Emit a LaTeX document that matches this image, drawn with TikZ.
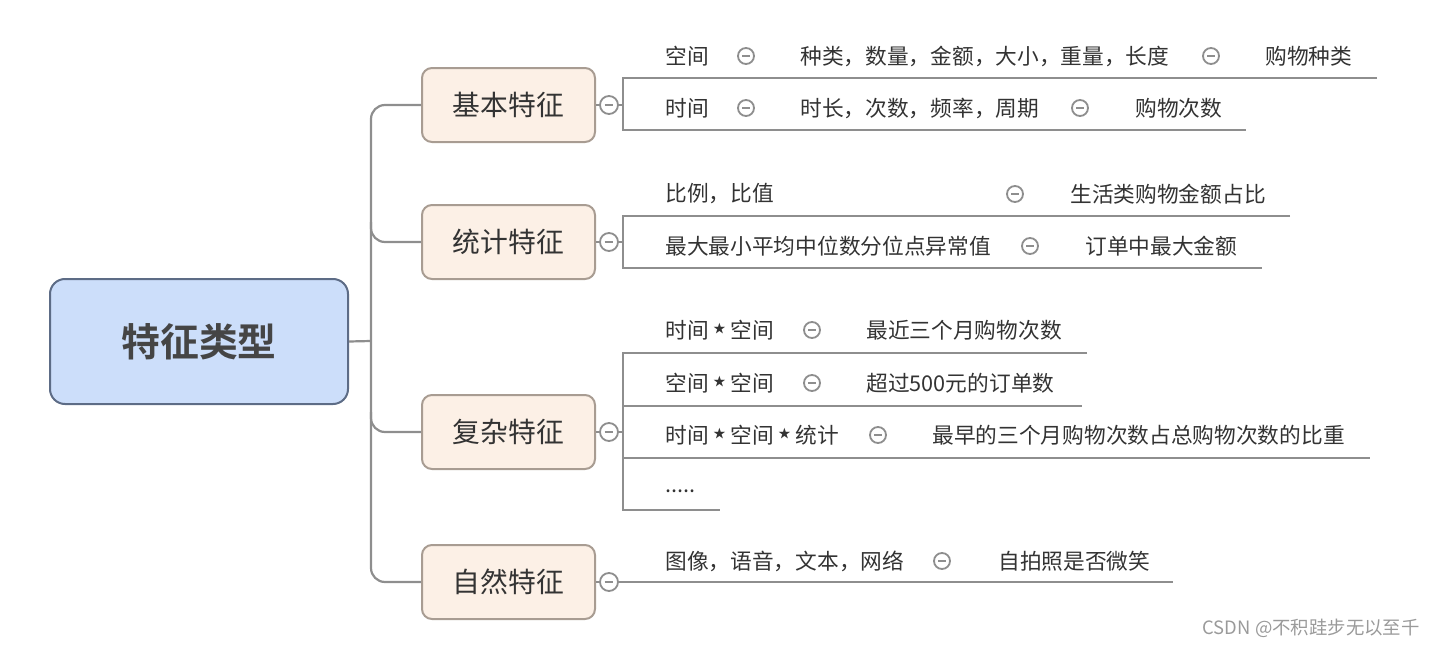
\documentclass[tikz,border=0pt]{standalone}
\usepackage{fontspec}
\setmainfont{Noto Sans CJK SC}[BoldFont={Noto Sans CJK SC Bold}]
\newfontfamily\dejavu{DejaVu Sans}
\definecolor{linegray}{HTML}{8E8E8E}
\definecolor{rootblue}{HTML}{CCDEFA}
\definecolor{rootborder}{HTML}{5D6C86}
\definecolor{branchfill}{HTML}{FCF0E6}
\definecolor{branchborder}{HTML}{A89C92}
\definecolor{txt}{HTML}{333333}
\definecolor{roottxt}{HTML}{454545}
\definecolor{wm}{HTML}{9A9A9A}
\newcommand{\st}{{\hspace{0.7pt}\dejavu\fontsize{15pt}{13pt}\selectfont ⋆\hspace{0.7pt}}}
\begin{document}
\begin{tikzpicture}[x=0.5pt,y=-0.5pt,
  conn/.style={draw=linegray,line width=1.1pt},
  rootbox/.style={draw=rootborder,fill=rootblue,line width=1pt,rounded corners=7.5pt,
    minimum width=149pt,minimum height=62.5pt,inner sep=0pt,
    font=\fontsize{19.4pt}{22pt}\selectfont\bfseries,text=roottxt},
  branchbox/.style={draw=branchborder,fill=branchfill,line width=1pt,rounded corners=5pt,
    minimum width=86.5pt,minimum height=37pt,inner sep=0pt,
    font=\fontsize{13.9pt}{16pt}\selectfont,text=txt},
  bigtoggle/.style={circle,draw=linegray,fill=white,line width=0.9pt,minimum size=9pt,inner sep=0pt,
    path picture={\draw[linegray,line width=0.8pt] ([xshift=-2.2pt]path picture bounding box.center) -- ([xshift=2.2pt]path picture bounding box.center);}},
  toggle/.style={circle,draw=linegray,fill=white,line width=0.9pt,minimum size=8pt,inner sep=0pt,
    path picture={\draw[linegray,line width=0.8pt] ([xshift=-2pt]path picture bounding box.center) -- ([xshift=2pt]path picture bounding box.center);}},
  leaf/.style={anchor=west,inner sep=0pt,font=\fontsize{10.85pt}{13pt}\selectfont,text=txt}
]
\useasboundingbox (0,0) rectangle (1436,648);

% root and branches
\node[rootbox] (root) at (199,341.5) {特征类型};
\node[branchbox] (b1) at (508.5,105) {基本特征};
\node[branchbox] (b2) at (508.5,242) {统计特征};
\node[branchbox] (b3) at (508.5,432) {复杂特征};
\node[branchbox] (b4) at (508.5,582) {自然特征};

\coordinate (tr) at (371,341);
\coordinate (tr2) at (371,222);
\coordinate (tr3) at (371,412);
\draw[conn] (root.east) -- (tr);
\draw[conn,rounded corners=7pt] (b1.west) -| (tr) |- (b4.west);
\draw[conn,rounded corners=7pt] (tr2) |- (b2.west);
\draw[conn,rounded corners=7pt] (tr3) |- (b3.west);

% branch toggles
\node[bigtoggle] (g1) at (609,105) {};
\node[bigtoggle] (g2) at (609,242) {};
\node[bigtoggle] (g3) at (609,432) {};
\node[bigtoggle] (g4) at (609,582) {};
\draw[conn] (b1.east) -- (g1.west);
\draw[conn] (b2.east) -- (g2.west);
\draw[conn] (b3.east) -- (g3.west);
\draw[conn] (b4.east) -- (g4.west);

% ---- 基本特征
\coordinate (a1s) at (623,78);  \coordinate (a1e) at (1377,78);
\coordinate (a2s) at (623,130); \coordinate (a2e) at (1246,130);
\draw[conn] (g1.east) -- (g1.east -| a1s);
\draw[conn] (a1e) -- (a1s) -- (a2s) -- (a2e);
\node[leaf] (a1) at (665,56) {空间};
\node[toggle] (a1t) at (746,56) {};
\node[leaf] (a1b) at (800,56) {种类，数量，金额，大小，重量，长度};
\node[toggle] (a1u) at (1211,56) {};
\node[leaf] (a1c) at (1265,56) {购物种类};
\node[leaf] (a2) at (665,108) {时间};
\node[toggle] (a2t) at (746,108) {};
\node[leaf] (a2b) at (800,108) {时长，次数，频率，周期};
\node[toggle] (a2u) at (1080,108) {};
\node[leaf] (a2c) at (1135,108) {购物次数};

% ---- 统计特征
\coordinate (s1s) at (623,216); \coordinate (s1e) at (1290,216);
\coordinate (s2s) at (623,268); \coordinate (s2e) at (1262,268);
\draw[conn] (g2.east) -- (g2.east -| s1s);
\draw[conn] (s1e) -- (s1s) -- (s2s) -- (s2e);
\node[leaf] (s1) at (665,194) {比例，比值};
\node[toggle] (s1t) at (1015,194) {};
\node[leaf] (s1b) at (1070,194) {生活类购物金额占比};
\node[leaf] (s2) at (665,246) {最大最小平均中位数分位点异常值};
\node[toggle] (s2t) at (1030,246) {};
\node[leaf] (s2b) at (1085,246) {订单中最大金额};

% ---- 复杂特征
\coordinate (c1s) at (623,353); \coordinate (c1e) at (1087,353);
\coordinate (c2s) at (623,406); \coordinate (c2e) at (1082,406);
\coordinate (c3s) at (623,458); \coordinate (c3e) at (1370,458);
\coordinate (c4s) at (623,510); \coordinate (c4e) at (720,510);
\draw[conn] (g3.east) -- (g3.east -| c1s);
\draw[conn] (c1e) -- (c1s) -- (c4s) -- (c4e);
\draw[conn] (c2s) -- (c2e);
\draw[conn] (c3s) -- (c3e);
\node[leaf] (c1) at (665,330) {时间\st 空间};
\node[toggle] (c1t) at (812,330) {};
\node[leaf] (c1b) at (866,330) {最近三个月购物次数};
\node[leaf] (c2) at (665,383) {空间\st 空间};
\node[toggle] (c2t) at (812,383) {};
\node[leaf] (c2b) at (866,383) {超过500元的订单数};
\node[leaf] (c3) at (665,435) {时间\st 空间\st 统计};
\node[toggle] (c3t) at (878,435) {};
\node[leaf] (c3b) at (932,435) {最早的三个月购物次数占总购物次数的比重};
\node[leaf] (c4) at (665,491) {.....};

% ---- 自然特征
\coordinate (n1e) at (1173,582);
\draw[conn] (g4.east) -- (n1e);
\node[leaf] (n1) at (665,561) {图像，语音，文本，网络};
\node[toggle] (n1t) at (942,561) {};
\node[leaf] (n1b) at (998,561) {自拍照是否微笑};

% watermark
\node[anchor=east,inner sep=0pt,text=wm,font=\fontsize{9.2pt}{11pt}\selectfont] (wmk) at (1420,628) {CSDN @不积跬步无以至千};
\end{tikzpicture}
\end{document}
